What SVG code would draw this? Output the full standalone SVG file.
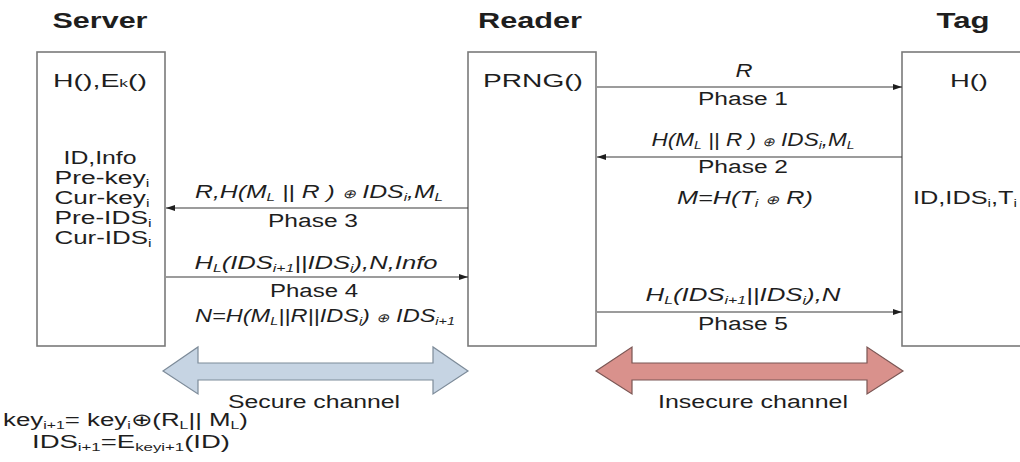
<svg xmlns="http://www.w3.org/2000/svg" width="1020" height="462" viewBox="0 0 1020 462">
<defs>
<style>
text{font-family:"Liberation Sans",Arial,sans-serif;fill:#1e1e1e;font-size:18px}
.title{font-size:22px;font-weight:bold}
.it{font-style:italic}
.mid{text-anchor:middle}
.box{fill:#fff;stroke:#7a7a7a;stroke-width:1.6}
.msg{stroke:#3a3a3a;stroke-width:1.2;fill:none}
.sub{font-size:11px}
.op{font-size:12px}
</style>
<marker id="ah" markerWidth="10" markerHeight="8" refX="9" refY="4" orient="auto" markerUnits="userSpaceOnUse">
<path d="M0,1 L9,4 L0,7 Z" fill="#1e1e1e"/>
</marker>
</defs>
<rect width="1020" height="462" fill="#fff"/>

<g id="server">
<text class="title mid" x="100" y="28" textLength="95" lengthAdjust="spacingAndGlyphs">Server</text>
<rect class="box" x="37" y="52" width="128" height="294"/>
<text class="mid" x="100" y="87" textLength="94" lengthAdjust="spacingAndGlyphs">H(),E<tspan class="sub">k</tspan>()</text>
<text class="mid" x="100" y="164" textLength="73" lengthAdjust="spacingAndGlyphs">ID,Info</text>
<text class="mid" x="102" y="184" textLength="95" lengthAdjust="spacingAndGlyphs">Pre-key<tspan class="sub" baseline-shift="-3">i</tspan></text>
<text class="mid" x="102" y="204" textLength="95" lengthAdjust="spacingAndGlyphs">Cur-key<tspan class="sub" baseline-shift="-3">i</tspan></text>
<text class="mid" x="103" y="224" textLength="97" lengthAdjust="spacingAndGlyphs">Pre-IDS<tspan class="sub" baseline-shift="-3">i</tspan></text>
<text class="mid" x="103" y="244" textLength="97" lengthAdjust="spacingAndGlyphs">Cur-IDS<tspan class="sub" baseline-shift="-3">i</tspan></text>
</g>

<g id="reader">
<text class="title mid" x="530" y="28" textLength="104" lengthAdjust="spacingAndGlyphs">Reader</text>
<rect class="box" x="468" y="52" width="128" height="294"/>
<text class="mid" x="533" y="87" textLength="100" lengthAdjust="spacingAndGlyphs">PRNG()</text>
</g>

<g id="tag">
<text class="title mid" x="963" y="28" textLength="53" lengthAdjust="spacingAndGlyphs">Tag</text>
<rect class="box" x="902" y="52" width="140" height="294"/>
<text class="mid" x="969" y="87" textLength="38" lengthAdjust="spacingAndGlyphs">H()</text>
<text class="mid" x="965" y="204" textLength="104" lengthAdjust="spacingAndGlyphs">ID,IDS<tspan class="sub" baseline-shift="-3">i</tspan>,T<tspan class="sub" baseline-shift="-3">i</tspan></text>
</g>

<g id="connectors">
<line class="msg" x1="597" y1="87" x2="902" y2="87" marker-end="url(#ah)"/>
<line class="msg" x1="902" y1="157" x2="597" y2="157" marker-end="url(#ah)"/>
<line class="msg" x1="468" y1="208" x2="166" y2="208" marker-end="url(#ah)"/>
<line class="msg" x1="166" y1="277" x2="468" y2="277" marker-end="url(#ah)"/>
<line class="msg" x1="597" y1="312" x2="902" y2="312" marker-end="url(#ah)"/>

<text class="it mid" x="744" y="77" textLength="17" lengthAdjust="spacingAndGlyphs">R</text>
<text class="mid" x="743" y="105" textLength="90" lengthAdjust="spacingAndGlyphs">Phase 1</text>

<text class="it mid" x="753" y="146" textLength="203" lengthAdjust="spacingAndGlyphs">H(M<tspan class="sub" baseline-shift="-3">L</tspan> || R ) <tspan class="op">⊕</tspan> IDS<tspan class="sub" baseline-shift="-3">i</tspan>,M<tspan class="sub" baseline-shift="-3">L</tspan></text>
<text class="mid" x="743" y="173" textLength="90" lengthAdjust="spacingAndGlyphs">Phase 2</text>
<text class="it mid" x="745" y="204" textLength="136" lengthAdjust="spacingAndGlyphs">M=H(T<tspan class="sub" baseline-shift="-3">i</tspan> <tspan class="op">⊕</tspan> R)</text>

<text class="it mid" x="319" y="198" textLength="248" lengthAdjust="spacingAndGlyphs">R,H(M<tspan class="sub" baseline-shift="-3">L</tspan> || R ) <tspan class="op">⊕</tspan> IDS<tspan class="sub" baseline-shift="-3">i</tspan>,M<tspan class="sub" baseline-shift="-3">L</tspan></text>
<text class="mid" x="313" y="227" textLength="90" lengthAdjust="spacingAndGlyphs">Phase 3</text>

<text class="it mid" x="316" y="269" textLength="243" lengthAdjust="spacingAndGlyphs">H<tspan class="sub" baseline-shift="-3">L</tspan>(IDS<tspan class="sub" baseline-shift="-3">i+1</tspan>||IDS<tspan class="sub" baseline-shift="-3">i</tspan>),N,Info</text>
<text class="mid" x="314" y="297" textLength="88" lengthAdjust="spacingAndGlyphs">Phase 4</text>
<text class="it mid" x="325" y="322" textLength="260" lengthAdjust="spacingAndGlyphs">N=H(M<tspan class="sub" baseline-shift="-3">L</tspan>||R||IDS<tspan class="sub" baseline-shift="-3">i</tspan>) <tspan class="op">⊕</tspan> IDS<tspan class="sub" baseline-shift="-3">i+1</tspan></text>

<text class="it mid" x="743" y="301" textLength="195" lengthAdjust="spacingAndGlyphs">H<tspan class="sub" baseline-shift="-3">L</tspan>(IDS<tspan class="sub" baseline-shift="-3">i+1</tspan>||IDS<tspan class="sub" baseline-shift="-3">i</tspan>),N</text>
<text class="mid" x="743" y="330" textLength="90" lengthAdjust="spacingAndGlyphs">Phase 5</text>
</g>

<g id="secure-channel">
<path d="M163,371 L198,347 L198,363 L433,363 L433,347 L468,371 L433,394 L433,380 L198,380 L198,394 Z" fill="#c6d4e3" stroke="#7d8b99" stroke-width="1.2"/>
<text class="mid" x="314" y="408" textLength="172" lengthAdjust="spacingAndGlyphs">Secure channel</text>
</g>

<g id="insecure-channel">
<path d="M596,371 L632,347 L632,363 L867,363 L867,347 L903,371 L867,394 L867,380 L632,380 L632,394 Z" fill="#d9918c" stroke="#7a5654" stroke-width="1.2"/>
<text class="mid" x="753" y="408" textLength="190" lengthAdjust="spacingAndGlyphs">Insecure channel</text>
</g>

<g id="update-formulas">
<text x="3" y="426" textLength="245" lengthAdjust="spacingAndGlyphs">key<tspan class="sub" baseline-shift="-3">i+1</tspan>= key<tspan class="sub" baseline-shift="-3">i</tspan>⊕(R<tspan class="sub" baseline-shift="-3">L</tspan>|| M<tspan class="sub" baseline-shift="-3">L</tspan>)</text>
<text x="32" y="448" textLength="198" lengthAdjust="spacingAndGlyphs">IDS<tspan class="sub" baseline-shift="-3">i+1</tspan>=E<tspan class="sub" baseline-shift="-3">keyi+1</tspan>(ID)</text>
</g>
</svg>
